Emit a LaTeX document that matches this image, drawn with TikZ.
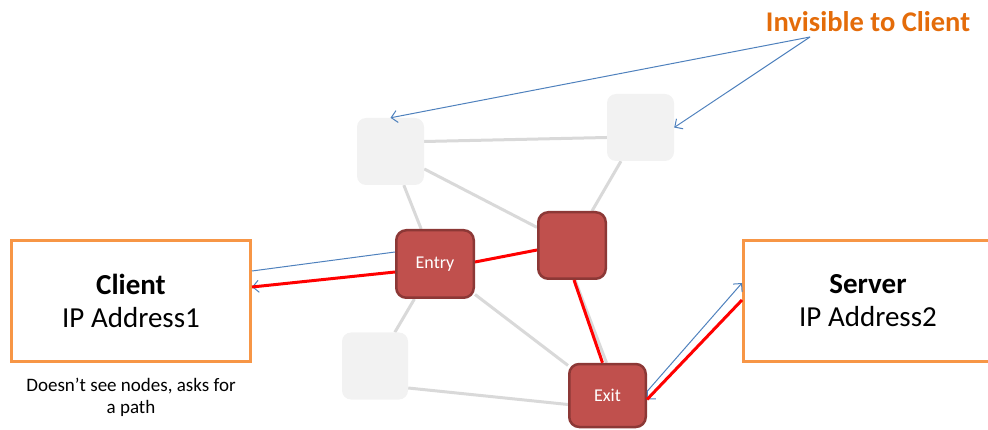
\documentclass[tikz,border=0pt]{standalone}
\usepackage{fontspec}
\setmainfont{Carlito}
\usetikzlibrary{arrows.meta,calc}
\pgfdeclarelayer{bg}
\pgfsetlayers{bg,main}

\definecolor{nodegray}{HTML}{F2F2F2}
\definecolor{linegray}{HTML}{D9D9D9}
\definecolor{nodered}{HTML}{C0504D}
\definecolor{nodeborder}{HTML}{8C3836}
\definecolor{routered}{HTML}{FF0000}
\definecolor{flowblue}{HTML}{4F81BD}
\definecolor{boxorange}{HTML}{F79646}
\definecolor{labelorange}{HTML}{E46C0A}

\begin{document}
\begin{tikzpicture}[x=1pt,y=-1pt,
  graynode/.style={rectangle, rounded corners=9pt, fill=nodegray,
    minimum width=67pt, minimum height=67pt, inner sep=0pt},
  rednode/.style={rectangle, rounded corners=10pt, fill=nodered,
    draw=nodeborder, line width=2.5pt, inner sep=0pt, text=white,
    font=\fontsize{18}{21}\selectfont},
  hostbox/.style={rectangle, draw=boxorange, line width=3pt, fill=white,
    minimum height=121pt, inner sep=0pt, align=center,
    font=\fontsize{29}{33}\selectfont},
  link/.style={draw=linegray, line width=3pt},
  route/.style={draw=routered, line width=3pt},
  flow/.style={draw=flowblue, line width=1pt},
  flowtip/.style={flow, -{Straight Barb[length=6pt,width=12pt]}}
]
\useasboundingbox (0,0) rectangle (988,430);

% relay nodes
\node[graynode] (g1) at (390.5,151.5) {};
\node[graynode] (g2) at (640.5,127.5) {};
\node[graynode, minimum width=66pt] (g3) at (375,366) {};
\node[rednode, minimum width=77.5pt, minimum height=67.5pt] (entry) at (435,264) {Entry};
\node[rednode, minimum width=67.5pt, minimum height=66.5pt] (mid) at (572,245.5) {};
\node[rednode, minimum width=76.5pt, minimum height=63pt] (exit) at (607.5,395.5) {\raisebox{-2pt}{Exit}};

% end hosts
\node[hostbox, minimum width=239pt] (client) at (131,301)
  {\textbf{Client}\\IP Address1};
\node[hostbox, minimum width=249pt] (server) at (868,301)
  {\textbf{Server}\\IP Address2};

\node[font=\fontsize{19}{22}\selectfont, align=center] (note) at (131,397)
  {Doesn’t see nodes, asks for\\a path};

\node[font=\bfseries\fontsize{28.5}{32}\selectfont, text=labelorange] (hidden) at (868,22)
  {Invisible to Client};
\coordinate (hub) at (810,37);

% mesh links
\begin{pgfonlayer}{bg}
\draw[link] ($(g1.east)+(0,-10)$) -- ($(g2.west)+(0,10)$);
\draw[link] (g1) -- (mid);
\draw[link] (g1) -- (entry);
\draw[link] (g2) -- (mid);
\draw[link] (entry) -- (g3);
\draw[link] (entry) -- (exit);
\draw[link] ($(g3.east)+(0,22)$) -- ($(exit.west)+(0,9)$);
\draw[link] ($(mid.south)+(3,0)$) -- ($(exit.north)+(-1,0)$);
\end{pgfonlayer}

% circuit through the relays
\draw[flow] ($(client.east)+(0,-30)$) -- ($(entry.west)+(0,-12)$);
\draw[flowtip] ($(entry.west)+(0,8)$) -- ($(client.east)+(0,-14)$);
\draw[route] ($(entry.west)+(0,8)$) -- ($(client.east)+(0,-14)$);
\draw[route] ($(entry.east)+(0,-2)$) -- ($(mid.west)+(0,4.5)$);
\draw[route] ($(mid.south)+(2,0)$) -- ($(exit.north)+(-5,0)$);
\draw[flowtip] ($(exit.east)+(0,-4)$) -- ($(server.west)+(0,-18)$);
\draw[flowtip] ($(server.west)+(0,-1)$) -- ($(exit.east)+(0,4)$);
\draw[route] ($(server.west)+(0,-1)$) -- ($(exit.east)+(0,4)$);

% pointers from the label
\draw[flowtip] (hub) -- (g1.north);
\draw[flowtip] (hub) -- (g2.east);
\end{tikzpicture}
\end{document}
